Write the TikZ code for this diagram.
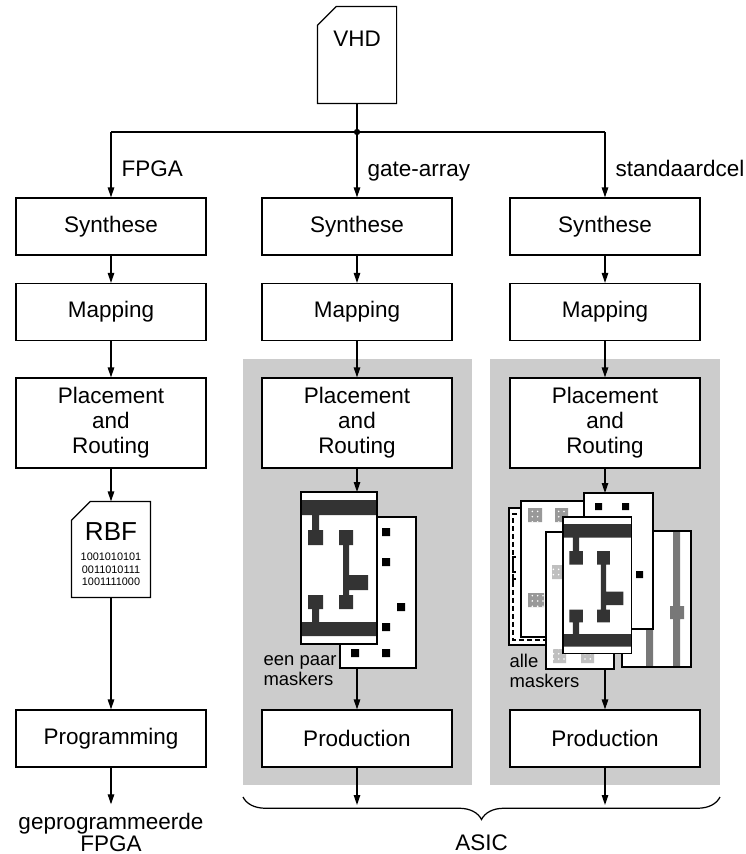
\documentclass[tikz,border=0pt]{standalone}
\usepackage{fontspec}
\setmainfont{Liberation Sans}
\usetikzlibrary{arrows.meta, positioning, calc, decorations.pathreplacing, patterns}

\definecolor{panelgray}{gray}{0.8}
\definecolor{metal}{gray}{0.2}
\definecolor{stripegray}{gray}{0.47}
\definecolor{viagray}{gray}{0.6}
\definecolor{lightvia}{gray}{0.75}

% one metal layer mask, top-left corner at #1,#2, scaled by #3
\newcommand{\layoutmask}[3]{%
  \begin{scope}[shift={(#1,#2)}, scale=#3]
    \fill[white] (0,0) rectangle (76,152);
    \fill[metal] (0,8) rectangle (76,23) (0,130) rectangle (76,144)
      (11,23) rectangle (18,38) (7,38) rectangle (22,53)
      (7,103) rectangle (22,117) (11,117) rectangle (18,130)
      (38,38) rectangle (52,53) (42,53) rectangle (48,103)
      (48,83) rectangle (67,98) (38,103) rectangle (52,117);
    \draw (0,0) rectangle (76,152);
  \end{scope}}

\begin{document}
\begin{tikzpicture}[x=0.02cm, y=-0.02cm,
    font=\fontsize{12.8}{14.2}\selectfont,
    line width=0.7pt,
    >={Triangle[length=0.2cm,width=0.13cm]},
    stepbox/.style={draw, fill=white, minimum width=3.8cm, minimum height=1.14cm, align=center, inner sep=0pt},
    docshape/.style={minimum width=1.56cm, minimum height=1.92cm, inner sep=0pt},
    tag/.style={anchor=base west, inner sep=0pt},
    masklabel/.style={align=left, anchor=base west, inner sep=0pt, font=\fontsize{10.5}{11}\selectfont},
    viapad/.style={fill=viagray, postaction={pattern=dots, pattern color=white}},
    lightpad/.style={fill=lightvia, postaction={pattern=dots, pattern color=white}}]

\useasboundingbox (0,0) rectangle (745,854);

% ASIC panels
\fill[panelgray] (243,359) rectangle (472,785);
\fill[panelgray] (490,359) rectangle (720,785);

% VHD source file
\node[docshape] (vhd) at (357,55) {};
\draw[fill=white] (vhd.south west) -- (vhd.south east) -- (vhd.north east)
  -- ([xshift=0.38cm]vhd.north west) -- ([yshift=-0.38cm]vhd.north west) -- cycle;
\node[anchor=base] (vhdname) at (357,47) {VHD};

\coordinate (split) at (357,132);

% synthesis and mapping
\node[stepbox] (syn1) at (111,226.5) {Synthese};
\node[stepbox] (syn2) at (357,226.5) {Synthese};
\node[stepbox] (syn3) at (605,226.5) {Synthese};
\node[stepbox] (map1) at (111,312) {Mapping};
\node[stepbox] (map2) at (357,312) {Mapping};
\node[stepbox] (map3) at (605,312) {Mapping};
\node[stepbox, minimum height=1.8cm] (par1) at (111,423) {Placement\\and\\Routing};
\node[stepbox, minimum height=1.8cm] (par2) at (357,423) {Placement\\and\\Routing};
\node[stepbox, minimum height=1.8cm] (par3) at (605,423) {Placement\\and\\Routing};

% branches
\draw (vhd) -- (split);
\draw (syn1 |- split) -- (syn3 |- split);
\fill (split) circle (1.8pt);
\draw[->] (syn1 |- split) -- (syn1);
\draw[->] (split) -- (syn2);
\draw[->] (syn3 |- split) -- (syn3);
\node[tag] (tfpga) at (121,177) {FPGA};
\node[tag] (tgate) at (367,177) {gate-array};
\node[tag] (tcell) at (615,177) {standaardcel};

\draw[->] (syn1) -- (map1);
\draw[->] (syn2) -- (map2);
\draw[->] (syn3) -- (map3);
\draw[->] (map1) -- (par1);
\draw[->] (map2) -- (par2);
\draw[->] (map3) -- (par3);

% FPGA: bitstream and programming
\node[docshape, minimum height=1.9cm] (rbf) at (111,549.5) {};
\draw[fill=white] (rbf.south west) -- (rbf.south east) -- (rbf.north east)
  -- ([xshift=0.38cm]rbf.north west) -- ([yshift=-0.38cm]rbf.north west) -- cycle;
\node[anchor=base, font=\fontsize{14.8}{16}\selectfont] (rbfname) at (111,540) {RBF};
\node[align=center, inner sep=0pt, font=\fontsize{6.2}{7.1}\selectfont] (rbfbits) at (111,569.7)
  {1001010101\\0011010111\\1001111000};
\node[stepbox] (prog) at (111,738.5) {Programming};
\node[align=center, anchor=base, inner sep=0pt] (fpgaout) at (111,851)
  {geprogrammeerde\\[-1.8pt]FPGA};
\draw[->] (par1) -- (rbf);
\draw[->] (rbf) -- (prog);
\draw[->, shorten >=0.16cm] (prog) -- (fpgaout);

% gate-array: a few masks
\draw[fill=white] (340,517) rectangle (416,668);
\fill (382,528) rectangle +(8,8) (382,558) rectangle +(8,8) (397,603) rectangle +(8,8)
  (382,623) rectangle +(8,8) (351,649) rectangle +(8,8) (382,649) rectangle +(8,8);
\layoutmask{301}{492}{1}
\coordinate (m2top) at (357,492);
\coordinate (m2bot) at (357,668);
\node[masklabel] (fewmasks) at (263,685) {een paar\\maskers};
\node[stepbox] (prod2) at (357,738.5) {Production};
\coordinate (out2) at (357,805);
\draw[->] (par2) -- (m2top);
\draw[->] (m2bot) -- (prod2);
\draw[->] (prod2) -- (out2);

% standard cell: full mask set
\draw[fill=white] (509,508) rectangle (560,645);
\draw[dash pattern=on 0.1cm off 0.06cm] (517,514) -- (513,514) -- (513,640) -- (546,640);
\draw (516,557) -- (513,557) -- (513,572) -- (516,572);
\draw (516,579) -- (513,579) -- (513,585);
\draw[fill=white] (521,501) rectangle (584,637);
\path[viapad] (528,508) rectangle (542,522) (555,508) rectangle (568,522) (528,593) rectangle (544,607);
\fill[white] (622,531) rectangle (691,667);
\fill[stripegray] (646,531) rectangle (653,667) (673,531) rectangle (680,667) (670,606) rectangle (684,619);
\draw (622,531) rectangle (691,667);
\draw[fill=white] (584,493) rectangle (653,629);
\fill (595,503) rectangle +(7,7) (622,503) rectangle +(7,7) (636,571) rectangle +(7,7);
\draw[fill=white] (546,532) rectangle (614,669);
\path[lightpad] (552,565) rectangle (566,579) (553,649) rectangle (566,663) (581,649) rectangle (594,663);
\layoutmask{563}{517}{0.9}
\coordinate (m3top) at (605,493);
\coordinate (m3bot) at (605,669);
\node[masklabel] (allmasks) at (509,687) {alle\\maskers};
\node[stepbox] (prod3) at (605,738.5) {Production};
\coordinate (out3) at (605,805);
\draw[->] (par3) -- (m3top);
\draw[->] (m3bot) -- (prod3);
\draw[->] (prod3) -- (out3);

% both ASIC flows
\coordinate (bracel) at (243,797);
\coordinate (bracer) at (720,797);
\draw[decorate, decoration={brace, mirror, amplitude=0.45cm}] (bracel) -- (bracer);
\node[inner sep=0pt] (asic) at (481.5,843) {ASIC};
\end{tikzpicture}
\end{document}
